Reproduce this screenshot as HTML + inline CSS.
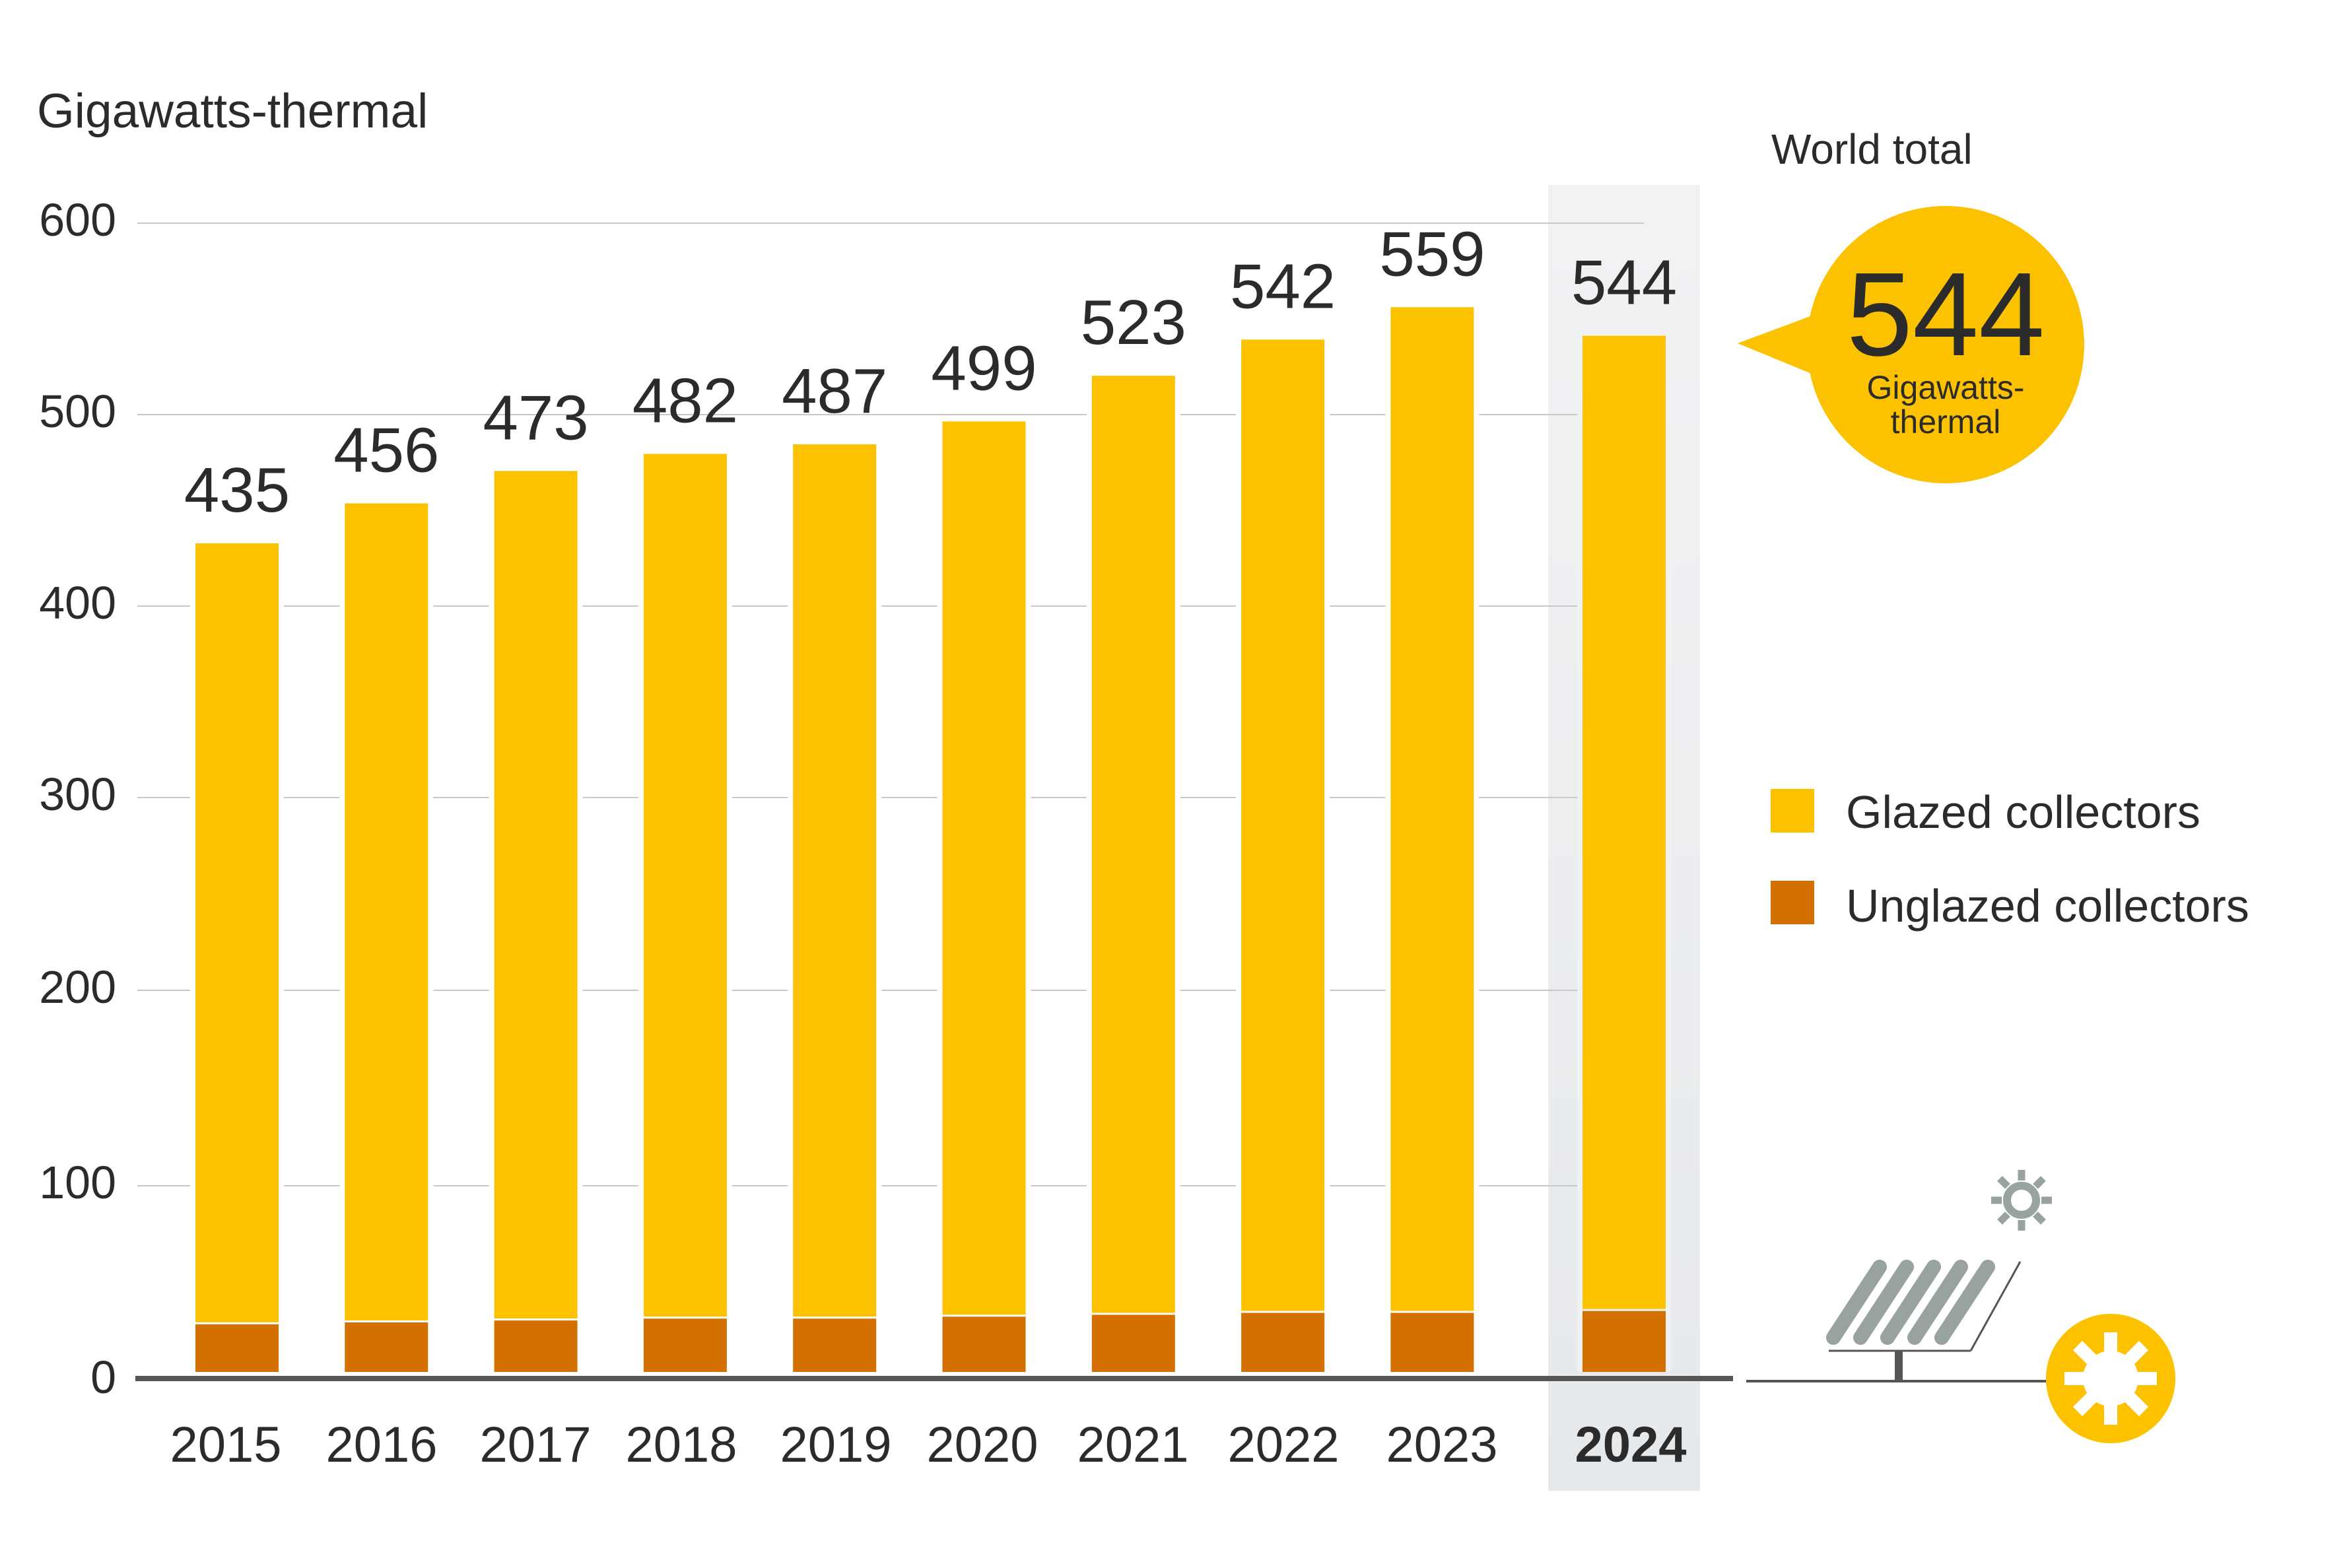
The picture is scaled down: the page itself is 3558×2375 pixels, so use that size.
<!DOCTYPE html>
<html><head><meta charset="utf-8"><style>
body{margin:0;background:#fff}
svg{display:block}
text{font-family:"Liberation Sans",sans-serif;fill:#2b2b2b}
</style></head><body>
<svg width="3558" height="2375" viewBox="0 0 3558 2375" xmlns="http://www.w3.org/2000/svg">
<defs><linearGradient id="g" x1="0" y1="0" x2="0" y2="1"><stop offset="0" stop-color="#f1f2f4"/><stop offset="1" stop-color="#e6e9ec"/></linearGradient></defs>
<rect x="2345" y="280" width="230" height="1978" fill="url(#g)"/>
<text x="56" y="193" font-size="73">Gigawatts-thermal</text>
<g stroke="#c8c8c8" stroke-width="2">
<line x1="208" y1="338" x2="2490" y2="338"/>
<line x1="208" y1="628" x2="2405" y2="628"/>
<line x1="208" y1="918" x2="2405" y2="918"/>
<line x1="208" y1="1208" x2="2405" y2="1208"/>
<line x1="208" y1="1500" x2="2405" y2="1500"/>
<line x1="208" y1="1796" x2="2405" y2="1796"/>
</g>
<g font-size="70" text-anchor="end">
<text x="176" y="357">600</text><text x="176" y="647">500</text><text x="176" y="937">400</text><text x="176" y="1227">300</text><text x="176" y="1519">200</text><text x="176" y="1815">100</text><text x="176" y="2110">0</text>
</g>
<g id="bars"></g>
<line x1="205" y1="2088" x2="2625" y2="2088" stroke="#555" stroke-width="8"/>
<g font-size="76" text-anchor="middle">
<text x="342" y="2214">2015</text><text x="578" y="2214">2016</text><text x="811" y="2214">2017</text><text x="1032" y="2214">2018</text><text x="1266" y="2214">2019</text><text x="1488" y="2214">2020</text><text x="1716" y="2214">2021</text><text x="1944" y="2214">2022</text><text x="2184" y="2214">2023</text>
<text x="2470" y="2214" font-weight="bold" fill="#1a1a1a">2024</text>
</g>
<text x="2683" y="248" font-size="64">World total</text>
<path d="M2632 520 L2766 470 L2766 575 Z" fill="#fcc200"/>
<circle cx="2947" cy="522" r="210" fill="#fcc200"/>
<text x="2947" y="538" font-size="180" text-anchor="middle" fill="#1a1a1a">544</text>
<text x="2947" y="604" font-size="50" text-anchor="middle">Gigawatts-</text>
<text x="2947" y="656" font-size="50" text-anchor="middle">thermal</text>
<rect x="2682" y="1195" width="66" height="66" fill="#fcc200"/>
<rect x="2682" y="1334" width="66" height="66" fill="#d47000"/>
<text x="2796" y="1254" font-size="70">Glazed collectors</text>
<text x="2796" y="1396" font-size="70">Unglazed collectors</text>
<g transform="translate(-15,-4)">
<line x1="2660" y1="2096" x2="3125" y2="2096" stroke="#555" stroke-width="4"/>
<line x1="2785" y1="2050" x2="3000" y2="2050" stroke="#555" stroke-width="3"/>
<line x1="3000" y1="2050" x2="3075" y2="1915" stroke="#555" stroke-width="3"/>
<rect x="2885" y="2050" width="12" height="46" fill="#555"/>
<g stroke="#98a2a0" stroke-width="22" stroke-linecap="round">
<line x1="2792" y1="2030" x2="2862" y2="1923"/><line x1="2833" y1="2030" x2="2903" y2="1923"/><line x1="2874" y1="2030" x2="2944" y2="1923"/><line x1="2915" y1="2030" x2="2985" y2="1923"/><line x1="2956" y1="2030" x2="3026" y2="1923"/>
</g>
<g transform="translate(3077,1822)" stroke="#98a2a0" stroke-width="12">
<circle r="22" fill="none"/>
<g stroke-width="11"><line x1="0" y1="-30" x2="0" y2="-46"/><line x1="0" y1="30" x2="0" y2="46"/><line x1="-30" y1="0" x2="-46" y2="0"/><line x1="30" y1="0" x2="46" y2="0"/><line x1="21" y1="21" x2="33" y2="33"/><line x1="-21" y1="-21" x2="-33" y2="-33"/><line x1="21" y1="-21" x2="33" y2="-33"/><line x1="-21" y1="21" x2="-33" y2="33"/></g>
</g>
<circle cx="3212" cy="2092" r="98" fill="#fcc200"/>
<g transform="translate(3212,2092)" fill="#fff">
<circle r="42"/>
<g stroke="#fff" stroke-width="20"><line x1="0" y1="-70" x2="0" y2="70"/><line x1="-70" y1="0" x2="70" y2="0"/><line x1="-50" y1="-50" x2="50" y2="50"/><line x1="-50" y1="50" x2="50" y2="-50"/></g>
</g>
</g>
</svg>
<script>
var d=[[435,25],[456,26],[473,27],[482,28],[487,28],[499,29],[523,30],[542,31],[559,31],[544,32]];
var s="";
d.forEach(function(v,i){
 var x=i<9?296+i*226.3:2397, w=126, base=2078, k=2.885;
 var top=base-v[0]*k, ut=base-v[1]*k;
 s+='<rect x="'+(x-8)+'" y="'+(top-4)+'" width="'+(w+16)+'" height="'+(base-top+4)+'" fill="'+(i<9?'#fff':'#f0f1f3')+'"/>';
 s+='<rect x="'+x+'" y="'+top+'" width="'+w+'" height="'+(ut-top-3)+'" fill="#fcc200"/>';
 s+='<rect x="'+x+'" y="'+ut+'" width="'+w+'" height="'+(base-ut)+'" fill="#d47000"/>';
 s+='<text x="'+(x+w/2)+'" y="'+(top-48)+'" font-size="96" text-anchor="middle">'+v[0]+'</text>';
});
document.getElementById("bars").innerHTML=s;
</script>
</body></html>
